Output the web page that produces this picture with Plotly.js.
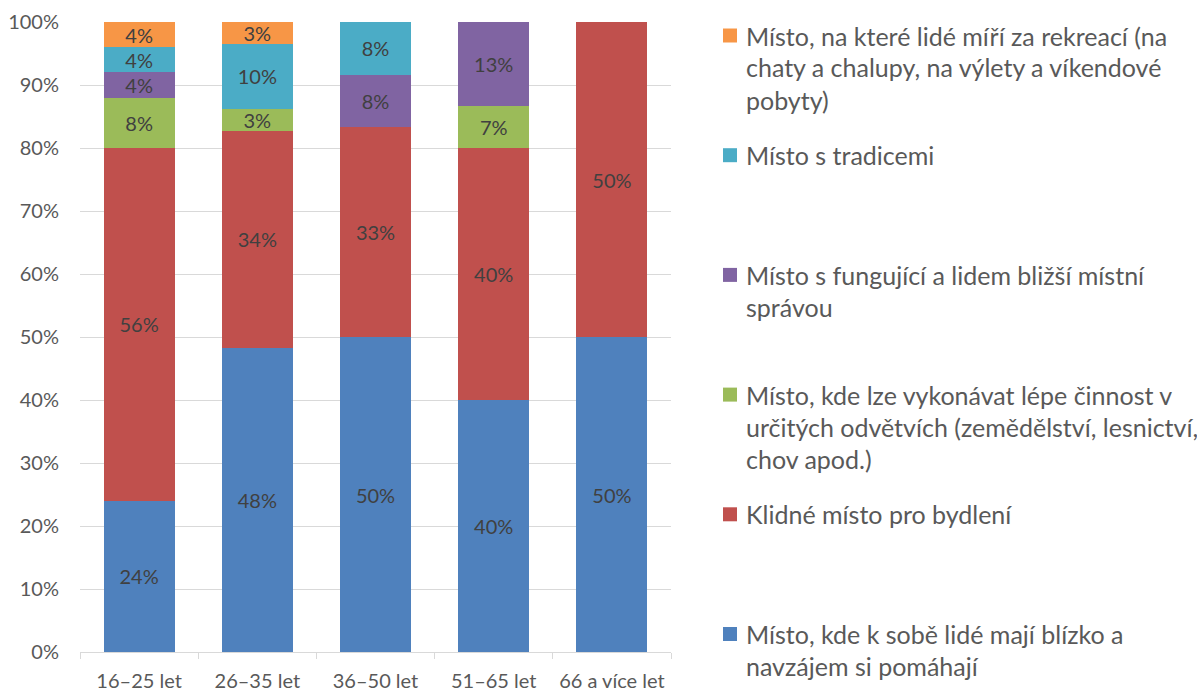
<!DOCTYPE html>
<html>
<head>
<meta charset="utf-8">
<script src="https://cdn.plot.ly/plotly-3.0.1.min.js"></script>
<style>
  html, body { margin: 0; padding: 0; background: #fff; }
  #chart { width: 1197px; height: 691px; }
</style>
</head>
<body>
<div id="chart"></div>
<script>
// age groups
const categories = ['16–25 let', '26–35 let', '36–50 let', '51–65 let', '66 a více let'];

// shares in % (stacked bottom to top)
const blizko = [24, 48.28, 50, 40, 50];
const klidne = [56, 34.48, 33.33, 40, 50];
const cinnost = [8, 3.45, null, 6.67, null];
const sprava = [4, null, 8.33, 13.33, null];
const tradice = [4, 10.34, 8.33, null, null];
const rekreace = [4, 3.45, null, null, null];

const seriesNames = [
    'Místo, kde k sobě lidé mají blízko a navzájem si pomáhají',
    'Klidné místo pro bydlení',
    'Místo, kde lze vykonávat lépe činnost v určitých odvětvích (zemědělství, lesnictví, chov apod.)',
    'Místo s fungující a lidem bližší místní správou',
    'Místo s tradicemi',
    'Místo, na které lidé míří za rekreací (na chaty a chalupy, na výlety a víkendové pobyty)'
];

// legend text as wrapped in the original, top entry first
const legendLines = [
    ['Místo, na které lidé míří za rekreací (na', 'chaty a chalupy, na výlety a víkendové', 'pobyty)'],
    ['Místo s tradicemi'],
    ['Místo s fungující a lidem bližší místní', 'správou'],
    ['Místo, kde lze vykonávat lépe činnost v', 'určitých odvětvích (zemědělství, lesnictví,', 'chov apod.)'],
    ['Klidné místo pro bydlení'],
    ['Místo, kde k sobě lidé mají blízko a', 'navzájem si pomáhají']
];

const colors = ['#4F81BD', '#C0504D', '#9BBB59', '#8064A2', '#4BACC6', '#F79646'];
const values = [blizko, klidne, cinnost, sprava, tradice, rekreace];

const FONT = 'Lato, "Open Sans", sans-serif';
const margin = { l: 80, r: 526, t: 22, b: 39 };
const plotW = 1197 - margin.l - margin.r;
const plotH = 691 - margin.t - margin.b;
const xp = px => (px - margin.l) / plotW;
const yp = py => 1 - (py - margin.t) / plotH;

const traces = values.map((vals, i) => ({
    type: 'bar',
    x: categories,
    y: vals,
    name: seriesNames[i],
    marker: { color: colors[i], line: { width: 0 } },
    text: vals.map(v => v == null ? '' : Math.round(v) + '%'),
    textposition: 'inside',
    insidetextanchor: 'middle',
    textangle: 0,
    constraintext: 'none',
    textfont: { family: FONT, size: 20, color: '#404040' },
    hoverinfo: 'skip'
}));

// legend drawn by hand so entries sit in equal slots like the original
const annotations = [];
const shapes = [];
const slotTop = 35.5, slotStep = 119.7, lineStep = 32;
legendLines.forEach((lines, k) => {
    const cy = slotTop + k * slotStep;
    const colorIdx = colors.length - 1 - k;
    shapes.push({
        type: 'rect', xref: 'paper', yref: 'paper',
        x0: xp(723), x1: xp(737), y0: yp(cy - 7), y1: yp(cy + 7),
        fillcolor: colors[colorIdx], line: { width: 0 }
    });
    lines.forEach((txt, j) => {
        annotations.push({
            xref: 'paper', yref: 'paper',
            x: xp(745), y: yp(cy + j * lineStep),
            xanchor: 'left', yanchor: 'middle',
            text: txt, showarrow: false, borderpad: 0,
            font: { family: FONT, size: 25, color: '#595959' }
        });
    });
});

const layout = {
    width: 1197,
    height: 691,
    margin: margin,
    barmode: 'stack',
    bargap: 0.4,
    showlegend: false,
    plot_bgcolor: '#ffffff',
    paper_bgcolor: '#ffffff',
    font: { family: FONT, color: '#595959' },
    xaxis: {
        type: 'category',
        showline: true,
        linecolor: '#d9d9d9',
        linewidth: 1,
        ticks: 'outside',
        tickson: 'boundaries',
        ticklen: 6,
        tickcolor: '#d9d9d9',
        ticklabelstandoff: 11,
        tickfont: { family: FONT, size: 20, color: '#595959' }
    },
    yaxis: {
        range: [0, 100],
        dtick: 10,
        ticksuffix: '%',
        showgrid: true,
        gridcolor: '#d9d9d9',
        gridwidth: 1,
        zeroline: false,
        ticks: '',
        ticklabelstandoff: 20,
        tickfont: { family: FONT, size: 20, color: '#595959' }
    },
    annotations: annotations,
    shapes: shapes
};

Plotly.newPlot('chart', traces, layout, { displayModeBar: false, staticPlot: true });
</script>
</body>
</html>
